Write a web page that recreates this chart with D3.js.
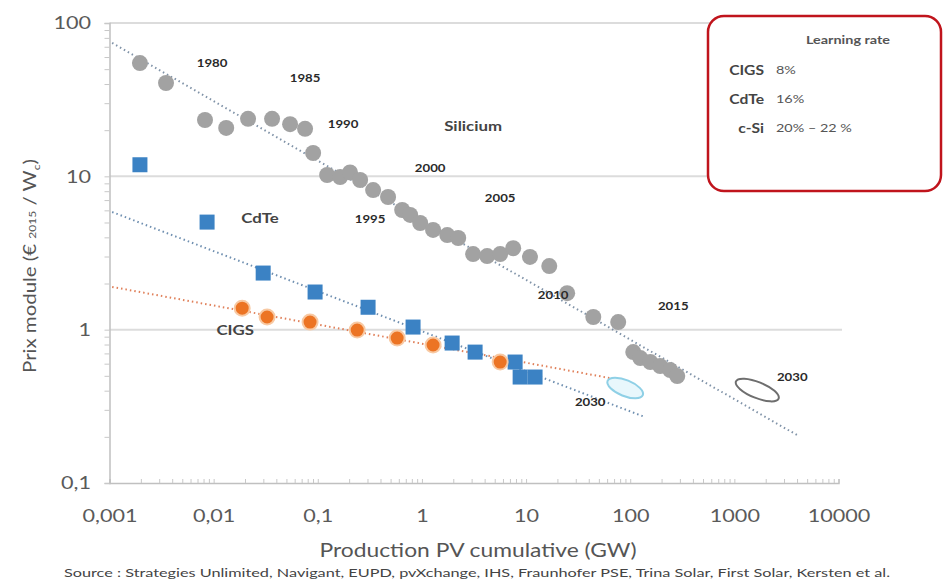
<!DOCTYPE html>
<html lang="fr">
<head>
<meta charset="utf-8">
<script src="https://d3js.org/d3.v7.min.js"></script>
<style>
  body { margin: 0; background: #fff; }
  svg { display: block; }
</style>
</head>
<body>
<script>
// Silicium (c-Si) points, cumulative production GW / module price
var siX = [0.00196, 0.00349, 0.00826, 0.0132, 0.0214, 0.0364, 0.0542, 0.0755, 0.0902, 0.123, 0.164, 0.204,
           0.255, 0.340, 0.473, 0.646, 0.771, 0.962, 1.28, 1.75, 2.23, 3.10, 4.23, 5.64, 7.52, 10.9, 16.7,
           24.8, 44.2, 76.7, 107, 125, 156, 194, 242, 283];
var siY = [54.8, 40.6, 23.3, 20.7, 23.7, 23.7, 21.9, 20.4, 14.2, 10.2, 9.9, 10.6,
           9.46, 8.14, 7.33, 6.03, 5.6, 4.96, 4.47, 4.14, 3.96, 3.11, 3.02, 3.11, 3.40, 2.98, 2.60,
           1.73, 1.21, 1.12, 0.714, 0.653, 0.615, 0.579, 0.545, 0.498];
// CdTe
var cdX = [0.00196, 0.00865, 0.0299, 0.0942, 0.304, 0.822, 1.95, 3.24, 7.85, 8.77, 12.2];
var cdY = [11.9, 5.03, 2.34, 1.76, 1.40, 1.04, 0.818, 0.714, 0.615, 0.491, 0.491];
// CIGS
var ciX = [0.0188, 0.0326, 0.0843, 0.239, 0.578, 1.28, 5.64];
var ciY = [1.38, 1.21, 1.12, 0.994, 0.881, 0.794, 0.615];

// trend lines (start, end)
var siTrend = [[0.00106, 74.1], [4018, 0.205]];
var cdTrend = [[0.00106, 5.85], [139, 0.269]];
var ciTrend = [[0.00106, 1.90], [64.3, 0.483]];

// 2030 forecast ellipses
var forecast = [
  {x: 89.5, y: 0.416, stroke: "#8fd0e6", fill: "#e8f7fc"},
  {x: 1660, y: 0.404, stroke: "#6e6e6e", fill: "none"}
];

var xTicks = [0.001, 0.01, 0.1, 1, 10, 100, 1000, 10000];
var xTickLabels = ["0,001", "0,01", "0,1", "1", "10", "100", "1000", "10000"];
var yTicks = [0.1, 1, 10, 100];
var yTickLabels = ["0,1", "1", "10", "100"];

// annotations: text, x, y
var yearLabels = [
  ["1980", 0.00966, 54.8], ["1985", 0.0755, 43.8], ["1990", 0.175, 21.9],
  ["2000", 1.20, 11.3], ["2005", 5.64, 7.22], ["1995", 0.318, 5.26],
  ["2010", 18.2, 1.68], ["2015", 259, 1.43], ["2030", 41.3, 0.337], ["2030", 3597, 0.491]
];
var seriesLabels = [["Silicium", 3.10, 21.3], ["CdTe", 0.0279, 5.35], ["CIGS", 0.0161, 0.994]];

var legendRows = [["CIGS", "8%"], ["CdTe", "16%"], ["c-Si", "20% – 22 %"]];

var w = 944, h = 588;
var svg = d3.select("body").append("svg").attr("width", w).attr("height", h);

var x = d3.scaleLog().domain([0.001, 10000]).range([109.5, 838.5]);
var y = d3.scaleLog().domain([0.1, 100]).range([483, 23]);

var font = "Lato, 'Open Sans', sans-serif";

// gridlines
svg.append("g").selectAll("line").data([1, 10, 100]).enter().append("line")
  .attr("x1", x.range()[0]).attr("x2", 842)
  .attr("y1", function(d) { return y(d); }).attr("y2", function(d) { return y(d); })
  .attr("stroke", "#dcdcdc").attr("stroke-width", 2);

// minor ticks
function minors(lo, hi) {
  var out = [];
  for (var p = lo; p < hi; p++) for (var k = 2; k <= 9; k++) out.push(k * Math.pow(10, p));
  return out;
}
var gx = svg.append("g").attr("transform", "translate(0," + y.range()[0] + ")")
  .call(d3.axisBottom(x).tickValues(minors(-3, 4).concat(xTicks)).tickSize(-4).tickFormat(""));
var gy = svg.append("g").attr("transform", "translate(" + x.range()[0] + ",0)")
  .call(d3.axisLeft(y).tickValues(minors(-1, 2).concat(yTicks)).tickSize(5).tickFormat(""));
[gx, gy].forEach(function(g) {
  g.selectAll("line").attr("stroke", "#c8c8c8");
  g.select(".domain").attr("stroke", "#c0c0c0").attr("stroke-width", 1.5);
});

// tick labels
svg.append("g").attr("transform", "translate(0,513)")
  .call(d3.axisBottom(x).tickValues(xTicks).tickSize(0)
    .tickFormat(function(d, i) { return xTickLabels[i]; }))
  .call(function(g) { g.select(".domain").remove(); })
  .selectAll("text").attr("class", "wide").attr("font-family", font).attr("font-size", 18).attr("fill", "#5a5a5a")
  .attr("dy", "0.35em");
svg.append("g").attr("transform", "translate(91,0)")
  .call(d3.axisLeft(y).tickValues(yTicks).tickSize(0)
    .tickFormat(function(d, i) { return yTickLabels[i]; }))
  .call(function(g) { g.select(".domain").remove(); })
  .selectAll("text").attr("class", "wide").attr("font-family", font).attr("font-size", 18).attr("fill", "#5a5a5a")
  .attr("x", 0);

// axis titles
var yt = svg.append("text").attr("class", "wide").attr("transform", "translate(36,266) rotate(-90)")
  .attr("text-anchor", "middle").attr("font-family", font).attr("font-size", 17).attr("fill", "#555");
yt.append("tspan").text("Prix module (€ ");
yt.append("tspan").attr("font-size", 10).text("2015");
yt.append("tspan").text(" / W");
yt.append("tspan").attr("font-size", 10).attr("dy", 4).text("c");
yt.append("tspan").attr("dy", -4).text(")");

svg.append("text").attr("class", "wide").attr("x", 478).attr("y", 557).attr("text-anchor", "middle")
  .attr("font-family", font).attr("font-size", 19).attr("fill", "#555")
  .text("Production PV cumulative (GW)");
svg.append("text").attr("x", 64).attr("y", 577).attr("textLength", 826).attr("lengthAdjust", "spacingAndGlyphs")
  .attr("font-family", font).attr("font-size", 11).attr("fill", "#444")
  .text("Source : Strategies Unlimited, Navigant, EUPD, pvXchange, IHS, Fraunhofer PSE, Trina Solar, First Solar, Kersten et al.");

// trend lines
var line = d3.line().x(function(d) { return x(d[0]); }).y(function(d) { return y(d[1]); });
[[siTrend, "#8093a8"], [cdTrend, "#6f8fb0"], [ciTrend, "#e0805a"]].forEach(function(t) {
  svg.append("path").attr("d", line(t[0])).attr("fill", "none")
    .attr("stroke", t[1]).attr("stroke-width", 2).attr("stroke-dasharray", "1.5,3");
});

// silicium points
svg.append("g").selectAll("circle").data(siX).enter().append("circle")
  .attr("cx", function(d) { return x(d); })
  .attr("cy", function(d, i) { return y(siY[i]); })
  .attr("r", 8).attr("fill", "#a2a2a2");

// CdTe squares
svg.append("g").selectAll("rect").data(cdX).enter().append("rect")
  .attr("x", function(d) { return x(d) - 7.5; })
  .attr("y", function(d, i) { return y(cdY[i]) - 7.5; })
  .attr("width", 15).attr("height", 15).attr("fill", "#3b82c4");

// CIGS circles
svg.append("g").selectAll("circle").data(ciX).enter().append("circle")
  .attr("cx", function(d) { return x(d); })
  .attr("cy", function(d, i) { return y(ciY[i]); })
  .attr("r", 7.5).attr("fill", "#ec7424").attr("stroke", "#f8c9a3").attr("stroke-width", 2);

// 2030 ellipses
svg.append("g").selectAll("ellipse").data(forecast).enter().append("ellipse")
  .attr("transform", function(d) { return "translate(" + x(d.x) + "," + y(d.y) + ") rotate(22)"; })
  .attr("rx", function(d, i) { return i ? 23 : 19; }).attr("ry", 8)
  .attr("fill", function(d) { return d.fill; })
  .attr("stroke", function(d) { return d.stroke; }).attr("stroke-width", 2);

// year labels
svg.append("g").selectAll("text").data(yearLabels).enter().append("text")
  .attr("class", "wide")
  .attr("x", function(d) { return x(d[1]); }).attr("y", function(d) { return y(d[2]); })
  .attr("dy", "0.35em").attr("text-anchor", "middle")
  .attr("font-family", font).attr("font-size", 11).attr("font-weight", "bold").attr("fill", "#2a2a2a")
  .text(function(d) { return d[0]; });

svg.append("g").selectAll("text").data(seriesLabels).enter().append("text")
  .attr("class", "wide")
  .attr("x", function(d) { return x(d[1]); }).attr("y", function(d) { return y(d[2]); })
  .attr("dy", "0.35em").attr("text-anchor", "middle")
  .attr("font-family", font).attr("font-size", 14).attr("font-weight", "bold").attr("fill", "#444")
  .text(function(d) { return d[0]; });

// learning rate box
var lg = svg.append("g");
lg.append("rect").attr("x", 708).attr("y", 16).attr("width", 233).attr("height", 175)
  .attr("rx", 16).attr("fill", "#fff").attr("stroke", "#c0141c").attr("stroke-width", 2.5);
lg.append("text").attr("class", "wide").attr("x", 848).attr("y", 40).attr("dy", "0.35em").attr("text-anchor", "middle")
  .attr("font-family", font).attr("font-size", 12).attr("font-weight", "bold").attr("fill", "#555")
  .text("Learning rate");
legendRows.forEach(function(r, i) {
  lg.append("text").attr("class", "wide").attr("x", 764).attr("y", 70 + i * 29).attr("dy", "0.35em").attr("text-anchor", "end")
    .attr("font-family", font).attr("font-size", 13).attr("font-weight", "bold").attr("fill", "#444")
    .text(r[0]);
  lg.append("text").attr("class", "wide").attr("x", 776).attr("y", 70 + i * 29).attr("dy", "0.35em")
    .attr("font-family", font).attr("font-size", 12).attr("fill", "#555")
    .text(r[1]);
});

// the original text is horizontally stretched: widen each label by 20%
svg.selectAll("text.wide").each(function() {
  var len = this.getComputedTextLength();
  d3.select(this).attr("textLength", len * 1.2).attr("lengthAdjust", "spacingAndGlyphs");
});
</script>
</body>
</html>
